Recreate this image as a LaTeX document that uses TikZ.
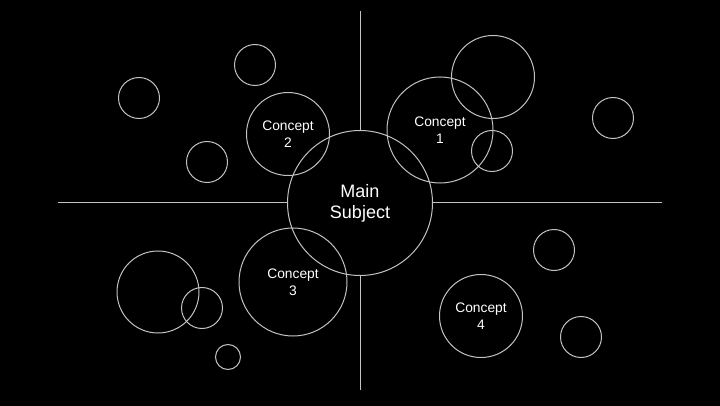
\documentclass[tikz,border=0pt]{standalone}
\usepackage{fontspec}
\setmainfont{Liberation Sans}
\definecolor{ringgray}{RGB}{195,195,195}
\begin{document}
\begin{tikzpicture}[x=1pt, y=-1pt,
    ring/.style={draw=ringgray, line width=1pt, circle, inner sep=0pt, minimum size=#1},
    topic/.style={ring=#1, text=white, align=center, font=\fontsize{13.8}{16.5}\selectfont},
    axis/.style={draw=ringgray, line width=1pt}]
    \fill[black] (0,0) rectangle (720,406);
    \useasboundingbox (0,0) rectangle (720,406);

    \node[topic=145, font=\fontsize{18}{21}\selectfont] (main) at (360,203) {Main\\Subject};
    \node[topic=106] (c1) at (440,130) {Concept\\1};
    \node[topic=83] (c2) at (288,134) {Concept\\2};
    \node[topic=108] (c3) at (293,282) {Concept\\3};
    \node[topic=83] (c4) at (481,316) {Concept\\4};

    \coordinate (top) at (360,11); \coordinate (bottom) at (360,390);
    \coordinate (left) at (58,203); \coordinate (right) at (662,203);
    \foreach \e in {top,bottom,left,right} \draw[axis] (\e) -- (main);

    % loose bubbles
    \node[ring=83] (b1) at (493,77) {};
    \node[ring=41] (b2) at (492,151) {};
    \node[ring=41] (b3) at (613,118) {};
    \node[ring=41] (b4) at (255,65) {};
    \node[ring=41] (b5) at (139,98) {};
    \node[ring=41] (b6) at (207,162) {};
    \node[ring=82] (b7) at (158,292) {};
    \node[ring=41] (b8) at (202,308) {};
    \node[ring=25] (b9) at (228,357) {};
    \node[ring=41] (b10) at (554,250) {};
    \node[ring=41] (b11) at (581,337) {};
\end{tikzpicture}
\end{document}
